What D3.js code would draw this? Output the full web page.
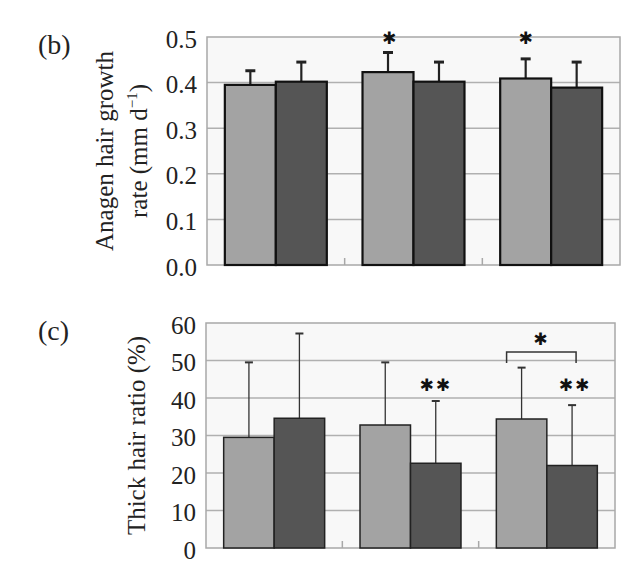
<!DOCTYPE html>
<html><head><meta charset="utf-8">
<script src="https://cdn.jsdelivr.net/npm/d3@7/dist/d3.min.js"></script>
<style>body{margin:0;background:#fff}svg{display:block}
.serif{font-family:"Liberation Serif","Times New Roman",Times,serif}</style>
</head><body>
<script>
const groups = ["g1","g2","g3"];
const series = ["light","dark"];
// Panel (b): anagen hair growth rate (mm/d)
const growthMean = [[0.395,0.402],[0.423,0.402],[0.409,0.389]];
const growthErr  = [[0.031,0.043],[0.043,0.043],[0.043,0.056]];
const growthTicks = [0,0.1,0.2,0.3,0.4,0.5];
// Panel (c): thick hair ratio (%)
const thickMean = [[29.5,34.6],[32.8,22.6],[34.4,22.0]];
const thickErr  = [[20.0,22.6],[16.7,16.6],[13.7,16.1]];
const thickTicks = [0,10,20,30,40,50,60];
const colors = {light:"#a3a3a3", dark:"#555555"};

const W=637,H=572;
const svg=d3.select("body").append("svg").attr("width",W).attr("height",H);

function panel(o){
  const g=svg.append("g");
  const x=d3.scaleBand().domain(groups).range([o.x0,o.x1]).paddingInner(0).paddingOuter(0);
  const y=d3.scaleLinear().domain([0,o.max]).range([o.y1,o.y0]);
  const inner=d3.scaleBand().domain(series).range([0,x.bandwidth()]).paddingOuter(0.35).paddingInner(0);
  g.append("rect").attr("x",o.x0).attr("y",o.y0).attr("width",o.x1-o.x0).attr("height",o.y1-o.y0)
    .attr("fill","#f8f8f8");
  g.selectAll(".grid").data(o.ticks.slice(1,-1)).join("line")
    .attr("x1",o.x0).attr("x2",o.x1).attr("y1",d=>y(d)).attr("y2",d=>y(d))
    .attr("stroke","#b0b0b0").attr("stroke-width",1.5);
  const ax=g.append("g").attr("transform",`translate(${o.x0},0)`)
    .call(d3.axisLeft(y).tickValues(o.ticks).tickFormat(o.fmt).tickSize(0).tickPadding(10));
  ax.attr("font-family",null).attr("font-size",null);
  ax.select(".domain").remove();
  ax.selectAll("text").attr("class","serif").style("font-size","25px").attr("fill","#222").attr("dy","0.4em");
  g.append("rect").attr("x",o.x0).attr("y",o.y0).attr("width",o.x1-o.x0).attr("height",o.y1-o.y0)
    .attr("fill","none").attr("stroke","#a8a8a8").attr("stroke-width",1.5);
  g.selectAll(".ct").data(groups.slice(1)).join("line")
    .attr("x1",d=>x(d)).attr("x2",d=>x(d)).attr("y1",o.y1).attr("y2",o.y1-7)
    .attr("stroke","#a8a8a8").attr("stroke-width",1.5);
  groups.forEach((gr,i)=>{
    series.forEach((s,j)=>{
      const bx=x(gr)+inner(s), bw=inner.bandwidth(), v=o.mean[i][j], e=o.err[i][j];
      const cx=bx+bw/2;
      g.append("line").attr("x1",cx).attr("x2",cx).attr("y1",y(v)).attr("y2",y(v+e))
        .attr("stroke",o.errColor).attr("stroke-width",o.errW);
      g.append("line").attr("x1",cx-o.capW/2).attr("x2",cx+o.capW/2).attr("y1",y(v+e)).attr("y2",y(v+e))
        .attr("stroke",o.errColor).attr("stroke-width",o.capT);
      g.append("rect").attr("x",bx).attr("y",y(v)).attr("width",bw).attr("height",y(0)-y(v))
        .attr("fill",colors[s]).attr("stroke",o.barStroke).attr("stroke-width",o.barSW);
    });
  });
  const lab=g.append("text").attr("class","serif").style("font-size","25px").attr("fill","#222")
    .attr("text-anchor","middle")
    .attr("transform",`translate(0,${(o.y0+o.y1)/2}) rotate(-90)`);
  o.label(lab);
  g.append("text").attr("class","serif").attr("x",38).attr("y",o.y0+17).style("font-size","28px")
    .attr("fill","#222").text(o.tag);
  return {g,x,y,inner};
}

const b=panel({x0:207,x1:620,y0:37,y1:265,max:0.5,ticks:growthTicks,fmt:d3.format(".1f"),
  mean:growthMean,err:growthErr,errColor:"#222",errW:2.2,capW:10,capT:3,barStroke:"#111",barSW:2.2,tag:"(b)",
  label:t=>{
    t.append("tspan").attr("x",0).attr("y",113).text("Anagen hair growth");
    const t2=t.append("tspan").attr("x",0).attr("y",147);
    t2.append("tspan").text("rate (mm d");
    t2.append("tspan").attr("dy",-10).style("font-size","15px").text("−1");
    t2.append("tspan").attr("dy",10).text(")");
  }});
const c=panel({x0:206,x1:615,y0:323,y1:548,max:60,ticks:thickTicks,fmt:d3.format("d"),
  mean:thickMean,err:thickErr,errColor:"#333",errW:1.3,capW:8,capT:2,barStroke:"#222",barSW:1.5,tag:"(c)",
  label:t=>{ t.append("tspan").attr("x",0).attr("y",145).text("Thick hair ratio (%)"); }});

const star="✱";
function ctr(p,gi,si){ return p.x(groups[gi])+p.inner(series[si])+p.inner.bandwidth()/2; }
function mark(x,yy,txt,size){
  svg.append("text").attr("x",x).attr("y",yy).attr("text-anchor","middle")
    .attr("font-family","DejaVu Sans, sans-serif").attr("font-size",size).attr("fill","#111")
    .attr("letter-spacing",2).text(txt);
}
mark(ctr(b,1,0)+2,44,star,17);
mark(ctr(b,2,0)+1,44,star,17);
mark(ctr(c,1,1),391,star+star,17);
mark(ctr(c,2,1)+3,391,star+star,17);
const bx1=ctr(c,2,0)-15, bx2=ctr(c,2,1)+4;
svg.append("path").attr("d",`M${bx1},363 V352 H${bx2} V363`).attr("fill","none")
  .attr("stroke","#333").attr("stroke-width",1.5);
mark((bx1+bx2)/2,345,star,17);
</script>
</body></html>
